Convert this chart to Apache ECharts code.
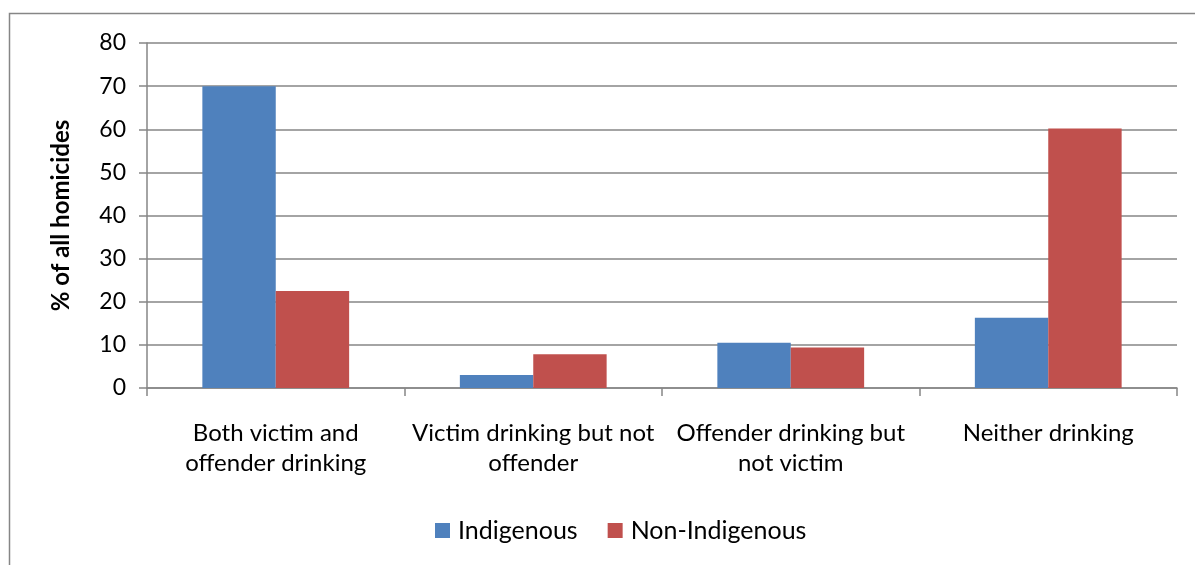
<!DOCTYPE html>
<html>
<head>
<meta charset="utf-8">
<script src="https://cdn.jsdelivr.net/npm/echarts@6/dist/echarts.min.js"></script>
<style>
  html, body { margin: 0; padding: 0; background: #ffffff; }
  #chart { width: 1195px; height: 565px; }
</style>
</head>
<body>
<div id="chart"></div>
<script>
// Homicides by drinking status of victim and offender (% of all homicides)
const categories = [
  'Both victim and\noffender drinking',
  'Victim drinking but not\noffender',
  'Offender drinking but\nnot victim',
  'Neither drinking'
];
const indigenous = [70.0, 3.0, 10.5, 16.3];
const nonIndigenous = [22.5, 7.8, 9.4, 60.2];
const yTicks = { min: 0, max: 80, interval: 10 };

const FONT = 'Lato, "Open Sans", sans-serif';
const GRID_GREY = '#868686';

const chart = echarts.init(document.getElementById('chart'), null, { renderer: 'canvas' });

chart.setOption({
  animation: false,
  backgroundColor: '#ffffff',
  textStyle: { fontFamily: FONT },
  graphic: [{
    type: 'rect',
    shape: { x: 9.5, y: 13.5, width: 1200, height: 600 },
    style: { fill: 'none', stroke: GRID_GREY, lineWidth: 1.5 },
    silent: true,
    z: -10
  }],
  grid: { left: 147, right: 18, top: 43, bottom: 177, containLabel: false },
  legend: {
    bottom: 17,
    left: 430,
    itemWidth: 15,
    itemHeight: 15,
    itemGap: 30,
    icon: 'rect',
    textStyle: { fontFamily: FONT, fontSize: 25, color: '#000000', padding: [0, 0, 0, 3] },
    data: ['Indigenous', 'Non-Indigenous']
  },
  xAxis: {
    type: 'category',
    data: categories,
    axisLine: { show: true, lineStyle: { color: GRID_GREY, width: 1.5 } },
    axisTick: { show: true, alignWithLabel: false, interval: 0, length: 8, lineStyle: { color: GRID_GREY, width: 1.5 } },
    axisLabel: {
      interval: 0,
      margin: 30,
      fontFamily: FONT,
      fontSize: 24,
      lineHeight: 30,
      color: '#000000'
    },
    splitLine: { show: false }
  },
  yAxis: {
    type: 'value',
    min: yTicks.min,
    max: yTicks.max,
    interval: yTicks.interval,
    name: '% of all homicides',
    nameLocation: 'middle',
    nameGap: 74,
    nameTextStyle: { fontFamily: FONT, fontSize: 24, fontWeight: 'bold', color: '#000000' },
    axisLine: { show: true, lineStyle: { color: GRID_GREY, width: 1.5 } },
    axisTick: { show: true, inside: false, length: 8, lineStyle: { color: GRID_GREY, width: 1.5 } },
    axisLabel: { fontFamily: FONT, fontSize: 23, color: '#000000', margin: 21 },
    splitLine: { show: true, lineStyle: { color: GRID_GREY, width: 1.5 } }
  },
  series: [
    {
      name: 'Indigenous',
      type: 'bar',
      data: indigenous,
      barGap: '0%',
      barCategoryGap: '43%',
      itemStyle: { color: '#4F81BD' }
    },
    {
      name: 'Non-Indigenous',
      type: 'bar',
      data: nonIndigenous,
      barGap: '0%',
      barCategoryGap: '43%',
      itemStyle: { color: '#C0504D' }
    }
  ]
});
</script>
</body>
</html>
